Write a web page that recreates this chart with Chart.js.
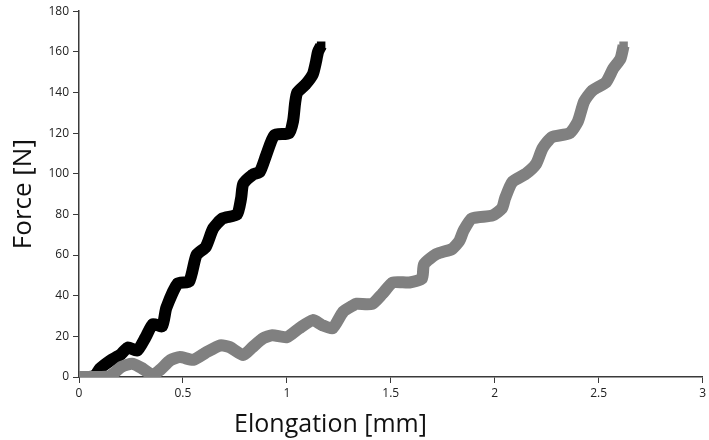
<!DOCTYPE html>
<html>
<head>
<meta charset="utf-8">
<script src="https://cdn.jsdelivr.net/npm/chart.js@4"></script>
<style>
  html, body { margin: 0; padding: 0; background: #fff; }
  #wrap { width: 709px; height: 440px; }
</style>
</head>
<body>
<div id="wrap"><canvas id="grafico"></canvas></div>
<script>
// elongation [mm] / force [N]
const elongNegro = [0, 0.05, 0.08, 0.10, 0.15, 0.20, 0.235, 0.28, 0.32, 0.355, 0.40, 0.42, 0.475, 0.53, 0.565, 0.61, 0.645, 0.69, 0.76, 0.78, 0.79, 0.835, 0.87, 0.90, 0.94, 1.01, 1.03, 1.04, 1.05, 1.09, 1.125, 1.14, 1.15, 1.165];
const fuerzaNegro = [0, 0, 1, 4, 8, 11, 14.5, 13, 19.5, 26, 25, 34, 46, 47, 60, 64, 73, 78, 80, 88, 95, 99.5, 101, 109, 119, 120, 126, 135, 140, 144, 149, 155, 160, 163];

const elongGris = [0, 0.07, 0.10, 0.15, 0.205, 0.255, 0.30, 0.355, 0.39, 0.44, 0.485, 0.55, 0.61, 0.68, 0.725, 0.79, 0.835, 0.885, 0.93, 1.0, 1.06, 1.125, 1.17, 1.22, 1.27, 1.315, 1.335, 1.41, 1.46, 1.51, 1.59, 1.65, 1.66, 1.72, 1.795, 1.83, 1.85, 1.89, 1.99, 2.035, 2.05, 2.085, 2.15, 2.2, 2.23, 2.275, 2.36, 2.40, 2.43, 2.47, 2.535, 2.57, 2.605, 2.62];
const fuerzaGris = [0, 0, 0, 0.5, 5, 6.5, 4.5, 1, 3.5, 8.3, 9.8, 8.5, 12, 15.6, 14.7, 10.8, 14.7, 19, 20.5, 19.6, 24, 28, 25.5, 24, 32, 35, 36, 36, 41, 46.5, 46.5, 48.5, 55.5, 60.5, 63, 67, 72, 78, 79.5, 83, 88, 96, 100, 105, 112.5, 118, 120, 125.7, 135.5, 141, 145, 151.7, 156.6, 163];

const ticksX = [0, 0.5, 1, 1.5, 2, 2.5, 3];
const ticksY = [0, 20, 40, 60, 80, 100, 120, 140, 160, 180];

function armarPuntos(xs, ys) {
    return xs.map(function (x, i) { return { x: x, y: ys[i] }; });
}

/*
* Titulo del eje X (desplazado a la izquierda como en el original)
*/
const tituloX = {
    id: 'tituloX',
    afterDraw: function (chart) {
        let ctx = chart.ctx;
        let escala = chart.scales.x;
        ctx.save();
        ctx.font = '25px "Open Sans"';
        ctx.fillStyle = '#111';
        ctx.textAlign = 'center';
        ctx.textBaseline = 'middle';
        ctx.fillText('Elongation [mm]', escala.getPixelForValue(1.21), escala.bottom - 15);
        ctx.restore();
    }
};

const colorEje = '#3a3a3a';

var ctx1 = document.getElementById('grafico').getContext('2d');
var grafico = new Chart(ctx1, {
    type: 'line',
    data: {
        datasets: [
            {
                label: 'gris',
                data: armarPuntos(elongGris, fuerzaGris),
                borderColor: '#808080',
                backgroundColor: '#808080',
                borderWidth: 12,
                borderJoinStyle: 'round',
                pointStyle: 'rect',
                pointRadius: 6,
                pointBorderWidth: 0,
                tension: 0.2
            },
            {
                label: 'negro',
                data: armarPuntos(elongNegro, fuerzaNegro),
                borderColor: '#000',
                backgroundColor: '#000',
                borderWidth: 12,
                borderJoinStyle: 'round',
                pointStyle: 'rect',
                pointRadius: 6,
                pointBorderWidth: 0,
                tension: 0.2
            }
        ]
    },
    options: {
        responsive: true,
        maintainAspectRatio: false,
        animation: false,
        layout: { padding: { top: 7, right: 4, left: 0, bottom: 0 } },
        plugins: {
            legend: { display: false },
            tooltip: { enabled: false }
        },
        scales: {
            x: {
                type: 'linear',
                min: 0,
                max: 3,
                afterBuildTicks: function (s) { s.ticks = ticksX.map(function (v) { return { value: v }; }); },
                afterFit: function (s) { s.height = 63; },
                grid: { drawOnChartArea: false, tickLength: 6, color: colorEje, tickColor: colorEje },
                border: { color: colorEje, width: 1.5 },
                ticks: {
                    color: '#222',
                    font: { family: 'Open Sans', size: 12 },
                    padding: 3,
                    maxRotation: 0,
                    callback: function (v) { return String(v); }
                }
            },
            y: {
                type: 'linear',
                min: 0,
                max: 180,
                afterBuildTicks: function (s) { s.ticks = ticksY.map(function (v) { return { value: v }; }); },
                afterFit: function (s) { s.width = 79; },
                grid: { drawOnChartArea: false, tickLength: 6, color: colorEje, tickColor: colorEje },
                border: { color: colorEje, width: 1.5 },
                ticks: { color: '#222', font: { family: 'Open Sans', size: 12 }, padding: 4 },
                title: {
                    display: true,
                    text: 'Force [N]',
                    color: '#111',
                    font: { family: 'Open Sans', size: 26 },
                    padding: { top: 8, bottom: 0 }
                }
            }
        }
    },
    plugins: [tituloX]
});
</script>
</body>
</html>
